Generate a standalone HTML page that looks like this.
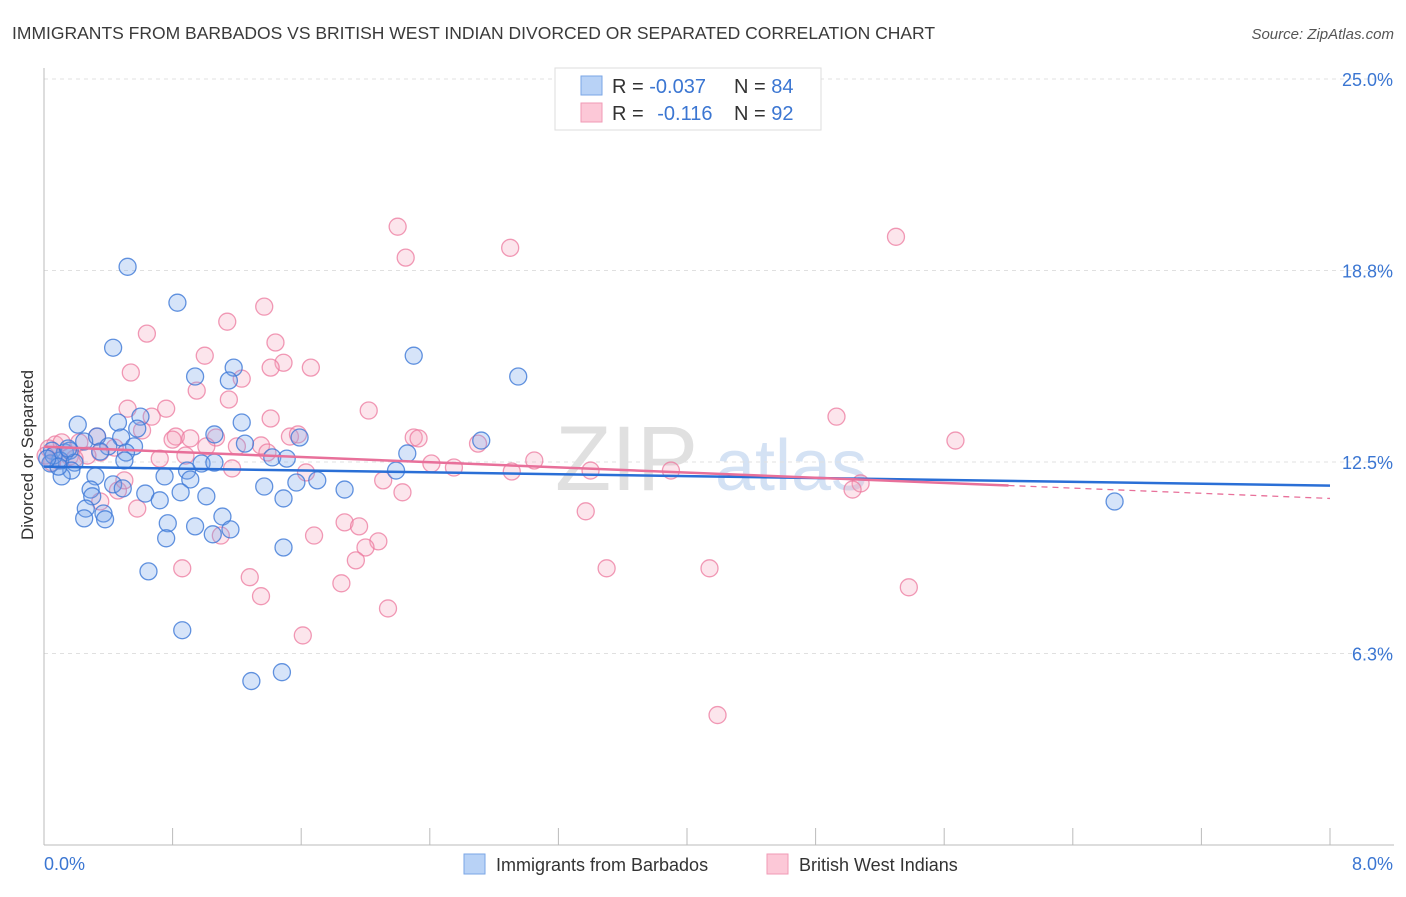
<!DOCTYPE html>
<html><head><meta charset="utf-8"><style>
body{margin:0;background:#fff;font-family:"Liberation Sans",sans-serif}
svg text{font-family:"Liberation Sans",sans-serif}
</style></head><body>
<svg id="chart" width="1406" height="892" viewBox="0 0 1406 892" xmlns="http://www.w3.org/2000/svg">
<text x="12" y="39" font-size="17.5" fill="#3a3a3a">IMMIGRANTS FROM BARBADOS VS BRITISH WEST INDIAN DIVORCED OR SEPARATED CORRELATION CHART</text>
<text x="1394" y="39" font-size="15" fill="#555" font-style="italic" text-anchor="end">Source: ZipAtlas.com</text>
<g>
<text x="555" y="490" font-size="92" fill="#d4d4d4" font-family="Liberation Serif" opacity="0.7">ZIP</text>
<text x="715" y="490" font-size="72" fill="#b9cfee" opacity="0.6">atlas</text>
</g>
<g id="grid"></g><g id="axes"></g><g id="pts"></g><g id="lines"></g>
<text transform="translate(33,455) rotate(-90)" font-size="17" fill="#333" text-anchor="middle">Divorced or Separated</text>
<g>
<rect x="555" y="68" width="266" height="62" fill="#fff" stroke="#ddd"/>
<rect x="581" y="76" width="21" height="19" fill="#b8d2f6" stroke="#7aa6e6"/>
<rect x="581" y="103" width="21" height="19" fill="#fcc8d7" stroke="#f09ab6"/>
<text x="612" y="93" font-size="20" fill="#333">R = <tspan fill="#3b76d2">-0.037</tspan></text>
<text x="734" y="93" font-size="20" fill="#333">N = <tspan fill="#3b76d2">84</tspan></text>
<text x="612" y="120" font-size="20" fill="#333">R = <tspan fill="#3b76d2" dx="8">-0.116</tspan></text>
<text x="734" y="120" font-size="20" fill="#333">N = <tspan fill="#3b76d2">92</tspan></text>
</g>
<g>
<rect x="464" y="854" width="21" height="20" fill="#b8d2f6" stroke="#7aa6e6"/>
<text x="496" y="871" font-size="18" fill="#333">Immigrants from Barbados</text>
<rect x="767" y="854" width="21" height="20" fill="#fcc8d7" stroke="#f09ab6"/>
<text x="799" y="871" font-size="18" fill="#333">British West Indians</text>
</g>
</svg>
<script>
const yTicks=[6.25,12.5,18.75,25];
const yTickLabels=["6.3%","12.5%","18.8%","25.0%"];
const xTickCount=10;
const xEndLabels=["0.0%","8.0%"];
const blueX=[0.52,0.83,0.43,2.30,2.95,1.18,0.94,1.15,0.21,0.60,1.23,0.46,0.58,0.33,0.48,1.06,1.59,2.72,0.25,0.40,0.56,0.05,0.13,0.16,0.35,0.51,0.50,1.25,1.42,1.51,2.26,0.10,0.19,0.04,0.98,1.06,0.17,0.32,0.11,0.43,0.75,0.89,0.91,1.57,1.70,2.19,1.37,1.87,0.49,0.29,0.30,0.63,0.72,0.85,1.01,1.49,0.26,0.37,0.25,0.38,0.77,0.94,1.11,1.16,1.05,0.76,1.49,0.65,0.86,1.29,1.48,6.66,0.06,0.09,0.02,0.15];
const blueY=[18.87,17.70,16.23,15.97,15.29,15.58,15.29,15.16,13.72,13.98,13.79,13.79,13.59,13.33,13.30,13.40,13.30,13.20,13.17,13.01,13.01,12.87,12.81,12.87,12.84,12.81,12.55,13.10,12.65,12.61,12.78,12.55,12.48,12.45,12.45,12.48,12.22,12.03,12.03,11.77,12.03,12.22,11.93,11.83,11.90,12.22,11.70,11.60,11.64,11.60,11.38,11.47,11.25,11.51,11.38,11.31,10.98,10.82,10.66,10.63,10.50,10.40,10.72,10.30,10.14,10.01,9.71,8.93,7.01,5.35,5.64,11.21,12.71,12.35,12.61,12.94];
const pinkX=[2.20,2.90,2.25,5.30,1.37,1.14,0.64,1.44,1.00,1.49,1.66,1.41,0.54,1.23,0.95,1.15,0.76,0.52,0.67,1.41,2.02,4.93,0.61,0.82,1.07,0.80,1.53,1.58,2.30,2.33,2.70,5.67,0.07,0.11,0.22,0.33,0.44,0.35,0.91,1.01,1.20,1.35,1.39,0.72,0.88,1.17,1.63,2.11,2.41,2.55,2.91,3.05,3.40,3.90,5.08,5.03,2.23,0.46,0.50,0.03,0.16,0.27,0.09,0.19,0.58,0.35,3.37,1.87,1.96,1.68,1.10,2.08,2.00,1.94,0.86,1.28,1.85,1.35,2.14,1.61,3.50,4.14,5.38,4.19,0.05,0.01];
const pinkY=[20.18,19.49,19.17,19.85,17.57,17.08,16.69,16.40,15.97,15.74,15.58,15.58,15.42,15.22,14.83,14.54,14.24,14.24,13.98,13.92,14.18,13.98,13.53,13.33,13.30,13.23,13.33,13.40,13.30,13.27,13.10,13.20,13.07,13.14,13.14,13.33,12.97,12.81,13.27,13.01,13.01,13.04,12.81,12.61,12.71,12.29,12.16,11.90,12.45,12.32,12.19,12.55,12.22,12.22,11.80,11.60,11.51,11.57,11.90,12.94,12.68,12.71,12.55,12.61,10.98,11.21,10.89,10.53,10.40,10.10,10.10,9.91,9.71,9.29,9.03,8.74,8.54,8.12,7.72,6.84,9.03,9.03,8.41,4.24,12.48,12.71];
const blueTrend=[12.35,11.73];
const pinkTrend=[13.0,11.31];
const pinkSolidEnd=6.0;

const X0=44,X1=1330,Y0=845,Y1=79;
const sx=v=>X0+(v/8)*(X1-X0);
const sy=v=>Y0-(v/25)*(Y0-Y1);
const NS="http://www.w3.org/2000/svg";
function mk(tag,attrs,parent){const e=document.createElementNS(NS,tag);for(const k in attrs)e.setAttribute(k,attrs[k]);parent.appendChild(e);return e;}
const grid=document.getElementById('grid'),axes=document.getElementById('axes'),pts=document.getElementById('pts'),lines=document.getElementById('lines');
yTicks.forEach((t,i)=>{
 const l=mk('line',{x1:X0,x2:1394,y1:sy(t),y2:sy(t),stroke:'#e0e0e0','stroke-dasharray':'4,4'},grid);
 
 
 const tx=mk('text',{x:1393,y:sy(t)+7,'font-size':18,fill:'#3b76d2','text-anchor':'end'},axes);
 tx.textContent=yTickLabels[i];
 
 
});
const ya=mk('line',{x1:X0,x2:X0,y1:68,y2:Y0,stroke:'#bbb'},axes);


const xa=mk('line',{x1:X0,x2:1394,y1:Y0,y2:Y0,stroke:'#bbb'},axes);


for(let i=0;i<=xTickCount;i++){
 const v=8*i/xTickCount;
 const t=mk('line',{x1:sx(v),x2:sx(v),y1:Y0,y2:Y0-17,stroke:'#bbb'},axes);
 
 
}
[[0,44,'start'],[8,1393,'end']].forEach((d,i)=>{
 const tx=mk('text',{x:d[1],y:870,'font-size':18,fill:'#3b76d2','text-anchor':d[2]},axes);
 tx.textContent=xEndLabels[i];
 
 
});
function drawPts(xs,ys,fill,stroke,name){
 xs.forEach((x,i)=>{
  const c=mk('circle',{cx:sx(x),cy:sy(ys[i]),r:8.5,fill:fill,stroke:stroke,'stroke-width':1.3},pts);
  
  
 });
}
drawPts(pinkX,pinkY,'rgba(246,160,188,0.28)','rgba(236,120,158,0.75)','point-british-west-indian');
drawPts(blueX,blueY,'rgba(120,165,235,0.3)','rgba(60,120,215,0.8)','point-barbados');
const bl=mk('line',{x1:sx(0),y1:sy(blueTrend[0]),x2:sx(8),y2:sy(blueTrend[1]),stroke:'#2a6fd6','stroke-width':2.5},lines);


const pm=pinkTrend[0]+(pinkTrend[1]-pinkTrend[0])*pinkSolidEnd/8;
const pl=mk('line',{x1:sx(0),y1:sy(pinkTrend[0]),x2:sx(pinkSolidEnd),y2:sy(pm),stroke:'#e8709a','stroke-width':2.5},lines);


const pd=mk('line',{x1:sx(pinkSolidEnd),y1:sy(pm),x2:sx(8),y2:sy(pinkTrend[1]),stroke:'#e8709a','stroke-width':1.3,'stroke-dasharray':'6,5'},lines);


</script>
</body></html>
